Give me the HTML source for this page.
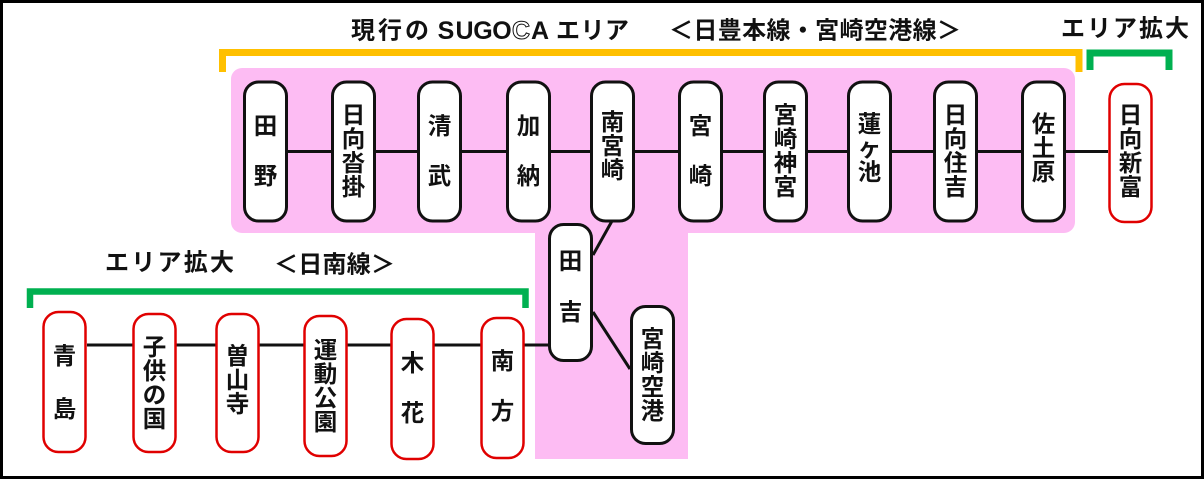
<!DOCTYPE html>
<html><head><meta charset="utf-8"><style>
html,body{margin:0;padding:0;background:#fff;}
svg{display:block;}
text{font-family:"Liberation Sans","Noto Sans CJK JP",sans-serif;font-weight:bold;fill:#111;}
</style></head><body>
<svg width="1204" height="479" viewBox="0 0 1204 479" xmlns="http://www.w3.org/2000/svg">
<rect x="0" y="0" width="1204" height="479" fill="#fff"/>
<!-- pink areas -->
<rect x="231" y="68" width="844" height="165" rx="11" fill="#fdbcf3"/>
<rect x="535" y="224" width="153" height="235" fill="#fdbcf3"/>
<!-- brackets -->
<path d="M222.5,72 V52.5 H1079 V72" fill="none" stroke="#ffc000" stroke-width="7"/>
<path d="M1090,70 V53 H1169 V70" fill="none" stroke="#00b050" stroke-width="7"/>
<path d="M30,308 V291.5 H525.5 V308" fill="none" stroke="#00b050" stroke-width="6.5"/>
<!-- connectors -->
<line x1="288" y1="151.5" x2="1108" y2="151.5" stroke="#111" stroke-width="3"/>
<line x1="87" y1="345" x2="548" y2="345" stroke="#111" stroke-width="3"/>
<line x1="612" y1="221" x2="593" y2="255" stroke="#111" stroke-width="3"/>
<line x1="593" y1="312" x2="630" y2="369" stroke="#111" stroke-width="3"/>
<!-- upper boxes -->
<g fill="#fff" stroke="#111" stroke-width="3">
<rect x="244.5" y="82" width="42" height="139" rx="14"/>
<rect x="332.5" y="82" width="42" height="139" rx="14"/>
<rect x="418.5" y="82" width="42" height="139" rx="14"/>
<rect x="507.5" y="82" width="42" height="139" rx="14"/>
<rect x="591.5" y="82" width="42" height="139" rx="14"/>
<rect x="679.5" y="82" width="42" height="139" rx="14"/>
<rect x="764.5" y="82" width="42" height="139" rx="14"/>
<rect x="848.5" y="82" width="42" height="139" rx="14"/>
<rect x="934.5" y="82" width="42" height="139" rx="14"/>
<rect x="1022.5" y="82" width="42" height="139" rx="14"/>
<rect x="549.5" y="224.5" width="42" height="136" rx="14"/>
<rect x="631.5" y="306.5" width="42" height="137" rx="14"/>
</g>
<g fill="#fff" stroke="#e00000" stroke-width="2.5">
<rect x="1109.5" y="84" width="42" height="138" rx="15"/>
<rect x="43.5" y="312" width="42" height="140" rx="15"/>
<rect x="133.5" y="314" width="42" height="138" rx="15"/>
<rect x="216.5" y="314" width="42" height="138" rx="15"/>
<rect x="304.5" y="316" width="42" height="140" rx="15"/>
<rect x="391.5" y="319" width="42" height="140" rx="15"/>
<rect x="481.5" y="318" width="42" height="140" rx="15"/>
</g>
<!-- station labels -->
<g font-size="23.5" text-anchor="middle" dominant-baseline="central">
<!-- 田野 -->
<text x="265.5" y="126">田</text><text x="265.5" y="176">野</text>
<!-- 日向沓掛 -->
<text x="353.5" y="115">日</text><text x="353.5" y="139">向</text><text x="353.5" y="163">沓</text><text x="353.5" y="187">掛</text>
<!-- 清武 -->
<text x="439.5" y="126">清</text><text x="439.5" y="176">武</text>
<!-- 加納 -->
<text x="528.5" y="126">加</text><text x="528.5" y="176">納</text>
<!-- 南宮崎 -->
<text x="612.5" y="122">南</text><text x="612.5" y="146">宮</text><text x="612.5" y="170">崎</text>
<!-- 宮崎 -->
<text x="700.5" y="126">宮</text><text x="700.5" y="176">崎</text>
<!-- 宮崎神宮 -->
<text x="785.5" y="115">宮</text><text x="785.5" y="139">崎</text><text x="785.5" y="163">神</text><text x="785.5" y="187">宮</text>
<!-- 蓮ヶ池 -->
<text x="869.5" y="124">蓮</text><text x="869.5" y="148">ヶ</text><text x="869.5" y="172">池</text>
<!-- 日向住吉 -->
<text x="955.5" y="115">日</text><text x="955.5" y="139">向</text><text x="955.5" y="163">住</text><text x="955.5" y="187">吉</text>
<!-- 佐土原 -->
<text x="1043.5" y="124">佐</text><text x="1043.5" y="148">土</text><text x="1043.5" y="172">原</text>
<!-- 日向新富 -->
<text x="1130.5" y="115">日</text><text x="1130.5" y="139">向</text><text x="1130.5" y="163">新</text><text x="1130.5" y="187">富</text>
<!-- 田吉 -->
<text x="570.5" y="261">田</text><text x="570.5" y="312">吉</text>
<!-- 宮崎空港 -->
<text x="652.5" y="339">宮</text><text x="652.5" y="363">崎</text><text x="652.5" y="387">空</text><text x="652.5" y="411">港</text>
<!-- 青島 -->
<text x="64.5" y="356">青</text><text x="64.5" y="409">島</text>
<!-- 子供の国 -->
<text x="154.5" y="347">子</text><text x="154.5" y="371">供</text><text x="154.5" y="395">の</text><text x="154.5" y="419">国</text>
<!-- 曽山寺 -->
<text x="237.5" y="356">曽</text><text x="237.5" y="380">山</text><text x="237.5" y="404">寺</text>
<!-- 運動公園 -->
<text x="325.5" y="350">運</text><text x="325.5" y="374">動</text><text x="325.5" y="398">公</text><text x="325.5" y="422">園</text>
<!-- 木花 -->
<text x="412.5" y="363">木</text><text x="412.5" y="413">花</text>
<!-- 南方 -->
<text x="502.5" y="361">南</text><text x="502.5" y="411">方</text>
</g>
<!-- headings -->
<g font-size="24" dominant-baseline="central">
<text x="351" y="31" textLength="78" lengthAdjust="spacing">現行の</text>
<text x="556" y="31" textLength="73" lengthAdjust="spacing">エリア</text>
<text x="669" y="31" textLength="292" lengthAdjust="spacing">＜日豊本線・宮崎空港線＞</text>
<text x="1061" y="29" textLength="128" lengthAdjust="spacing">エリア拡大</text>
<text x="105" y="263" textLength="129" lengthAdjust="spacing">エリア拡大</text>
<text x="274" y="265" textLength="121" lengthAdjust="spacing">＜日南線＞</text>
</g>
<!-- SUGOCA logo text -->
<g font-size="25" text-anchor="middle" dominant-baseline="central" style="font-family:'DejaVu Sans Mono','Liberation Mono',monospace;font-weight:bold">
<text x="446" y="31">S</text>
<text x="464.5" y="31">U</text>
<text x="483" y="31">G</text>
<text x="502" y="31">O</text>
<text x="521" y="31" style="fill:none;stroke:#111;stroke-width:1">C</text>
<text x="540" y="31">A</text>
</g>
<!-- outer border -->
<rect x="1.5" y="1.5" width="1201" height="476" fill="none" stroke="#000" stroke-width="3"/>
</svg>
</body></html>
